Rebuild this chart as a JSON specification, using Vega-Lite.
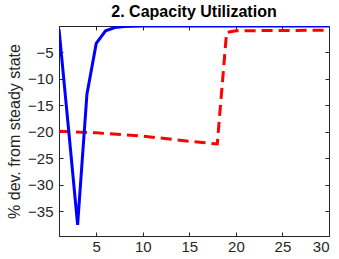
{
  "$schema": "https://vega.github.io/schema/vega-lite/v6.json",
  "width": 270,
  "height": 210,
  "autosize": {"type": "none"},
  "padding": {"left": 59, "top": 26, "right": 10, "bottom": 23},
  "background": "white",
  "config": {
    "view": {"stroke": "#262626", "strokeWidth": 1},
    "font": "Liberation Sans",
    "axis": {
      "domainColor": "#262626",
      "tickColor": "#262626",
      "labelColor": "#262626",
      "labelFont": "Liberation Sans",
      "labelFontSize": 15,
      "titleFont": "Liberation Sans",
      "titleFontSize": 16,
      "titleFontWeight": "normal",
      "titleColor": "#262626",
      "grid": false,
      "tickSize": -4
    }
  },
  "title": {
    "text": "2. Capacity Utilization",
    "fontSize": 16,
    "fontWeight": "bold",
    "color": "#000000",
    "font": "Liberation Sans",
    "offset": 6
  },
  "data": {
    "values": [
      {"t": 1, "v": -0.6, "s": "a"},
      {"t": 2, "v": -19.0, "s": "a"},
      {"t": 3, "v": -37.6, "s": "a"},
      {"t": 4, "v": -12.9, "s": "a"},
      {"t": 5, "v": -3.3, "s": "a"},
      {"t": 6, "v": -0.9, "s": "a"},
      {"t": 7, "v": -0.3, "s": "a"},
      {"t": 8, "v": -0.1, "s": "a"},
      {"t": 9, "v": -0.05, "s": "a"},
      {"t": 10, "v": 0, "s": "a"},
      {"t": 15, "v": 0, "s": "a"},
      {"t": 20, "v": 0, "s": "a"},
      {"t": 25, "v": 0, "s": "a"},
      {"t": 30, "v": 0, "s": "a"},
      {"t": 1, "v": -19.9, "s": "b"},
      {"t": 5, "v": -20.2, "s": "b"},
      {"t": 10, "v": -20.8, "s": "b"},
      {"t": 15, "v": -21.8, "s": "b"},
      {"t": 18, "v": -22.3, "s": "b"},
      {"t": 19, "v": -1.2, "s": "b"},
      {"t": 20, "v": -0.9, "s": "b"},
      {"t": 25, "v": -0.85, "s": "b"},
      {"t": 30, "v": -0.8, "s": "b"}
    ]
  },
  "layer": [
    {
      "transform": [{"filter": "datum.s == 'b'"}],
      "mark": {"type": "line", "color": "#ff0000", "strokeWidth": 3, "strokeDash": [11, 6], "clip": true},
      "encoding": {
        "x": {"field": "t", "type": "quantitative", "scale": {"domain": [1, 30], "nice": false},
          "axis": {"values": [5, 10, 15, 20, 25, 30], "title": null, "labelPadding": 7}},
        "y": {"field": "v", "type": "quantitative", "scale": {"domain": [-39.7, 0], "nice": false, "zero": false},
          "axis": {"values": [-35, -30, -25, -20, -15, -10, -5], "title": "% dev. from steady state", "labelPadding": 10, "titlePadding": 5}}
      }
    },
    {
      "transform": [{"filter": "datum.s == 'a'"}],
      "mark": {"type": "line", "color": "#0000ff", "strokeWidth": 3, "clip": true},
      "encoding": {
        "x": {"field": "t", "type": "quantitative", "scale": {"domain": [1, 30], "nice": false},
          "axis": {"orient": "top", "values": [5, 10, 15, 20, 25, 30], "labels": false, "title": null}},
        "y": {"field": "v", "type": "quantitative", "scale": {"domain": [-39.7, 0], "nice": false, "zero": false},
          "axis": {"orient": "right", "values": [-35, -30, -25, -20, -15, -10, -5], "labels": false, "title": null}}
      }
    }
  ],
  "resolve": {"axis": {"x": "independent", "y": "independent"}}
}
